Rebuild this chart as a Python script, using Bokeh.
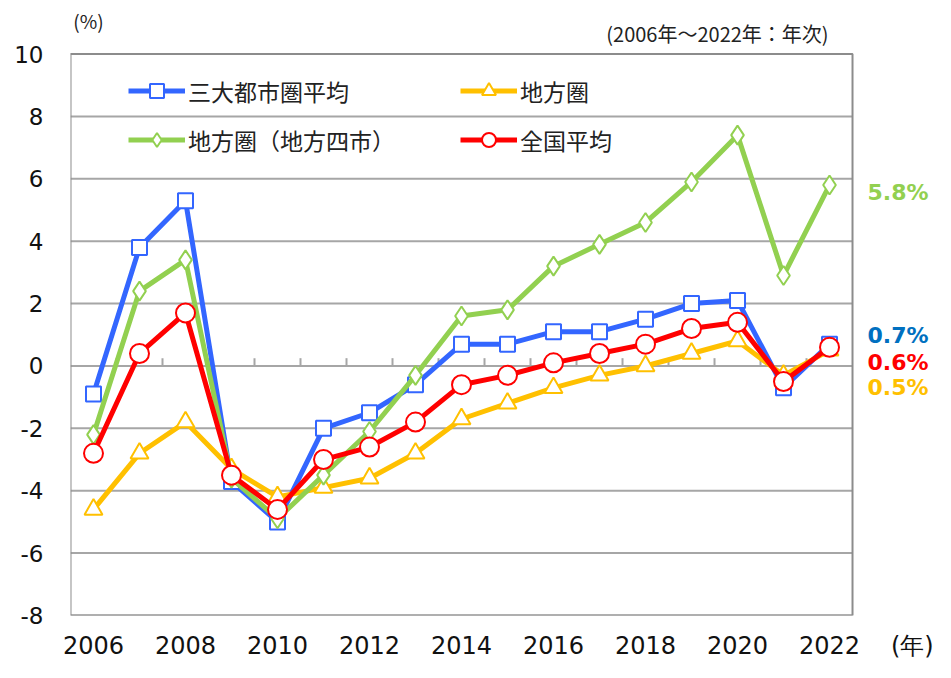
import numpy as np
from bokeh.plotting import figure
from bokeh.models import Range1d, FixedTicker, Legend, CustomJSTickFormatter, ColumnDataSource
from bokeh.core.properties import value
from bokeh.embed import file_html
from bokeh.resources import INLINE

years = list(range(2006, 2023))
metro = [-0.9, 3.8, 5.3, -3.7, -5.0, -2.0, -1.5, -0.6, 0.7, 0.7, 1.1, 1.1, 1.5, 2.0, 2.1, -0.7, 0.7]
local = [-4.6, -2.8, -1.8, -3.3, -4.2, -3.9, -3.6, -2.8, -1.7, -1.2, -0.7, -0.3, 0.0, 0.4, 0.8, -0.3, 0.5]
four_cities = [-2.2, 2.4, 3.4, -3.6, -4.9, -3.5, -2.1, -0.3, 1.6, 1.8, 3.2, 3.9, 4.6, 5.9, 7.4, 2.9, 5.8]
national = [-2.8, 0.4, 1.7, -3.5, -4.6, -3.0, -2.6, -1.8, -0.6, -0.3, 0.1, 0.4, 0.7, 1.2, 1.4, -0.5, 0.6]

names = ["三大都市圏平均", "地方圏", "地方圏（地方四市）", "全国平均"]
x_ticks = list(range(2006, 2023, 2))
y_ticks = list(range(-8, 11, 2))
unit_x_text = "(年)"
unit_y_text = "(%)"
period_text = "(2006年～2022年：年次)"

FONT_NUM = "DejaVu Sans"
FONT_JP = "Noto Sans CJK JP"
GRID = "#a6a6a6"
BOX = "#8c8c8c"

# plot box spans years[0]-0.5 .. years[-1]+0.5 and -8 .. 10; the frame is widened
# (to the right and top) so that the outside texts can be drawn as glyphs
x0_box, x1_box = years[0] - 0.5, years[-1] + 0.5
p = figure(width=935, height=662, output_backend="svg", toolbar_location=None,
           x_range=Range1d(x0_box, 2024.304), y_range=Range1d(y_ticks[0], 11.717),
           min_border_left=70, min_border_right=0, min_border_top=0, min_border_bottom=42)
p.background_fill_color = "white"
p.border_fill_color = "white"
p.outline_line_color = None
p.xgrid.grid_line_color = None
p.ygrid.grid_line_color = None

p.xaxis.ticker = FixedTicker(ticks=x_ticks + [2023.8])
p.xaxis.formatter = CustomJSTickFormatter(
    args=dict(unit=unit_x_text),
    code="return tick > 2023 ? unit : String(Math.round(tick));")
p.yaxis.ticker = FixedTicker(ticks=y_ticks)
p.yaxis.formatter = CustomJSTickFormatter(code="return String(Math.round(tick));")
for ax in (p.xaxis[0], p.yaxis[0]):
    ax.axis_line_color = None
    ax.major_tick_line_color = None
    ax.minor_tick_line_color = None
    ax.major_tick_in = 0
    ax.major_tick_out = 0
    ax.major_label_text_font = FONT_NUM
    ax.major_label_text_color = "#111111"
p.xaxis.major_label_text_font_size = "24px"
p.yaxis.major_label_text_font_size = "23px"
p.xaxis.major_label_standoff = 16
p.yaxis.major_label_standoff = 27

# horizontal gridlines and plot box
n = len(y_ticks)
p.segment(x0=[x0_box] * n, y0=y_ticks, x1=[x1_box] * n, y1=y_ticks, line_color=GRID, line_width=2)
p.quad(left=[x0_box], right=[x1_box], bottom=[y_ticks[0]], top=[y_ticks[-1]],
       fill_color=None, line_color=BOX, line_width=2)

# small ticks on the zero line at category boundaries
bx = [y - 0.5 for y in years[1:]]
p.segment(x0=bx, y0=[0] * len(bx), x1=bx, y1=[0.25] * len(bx), line_color=GRID, line_width=2)

series = [
    (metro, "#3366ff", "square", 15),
    (local, "#ffc000", "triangle", 18),
    (four_cities, "#92d050", "diamond", 19),
    (national, "#ff0000", "circle", 19),
]
items = []
for (vals, color, marker, size), name in zip(series, names):
    r1 = p.line(years, vals, line_color=color, line_width=5, line_join="round")
    r2 = p.scatter(years, vals, marker=marker, size=size, fill_color="white",
                   line_color=color, line_width=2)
    items.append((name, [r1, r2]))

legend = Legend(items=items, location=(58, 458), orientation="horizontal", ncols=2)
legend.background_fill_alpha = 0
legend.border_line_color = None
legend.padding = 0
legend.margin = 0
legend.spacing = 14
legend.glyph_width = 57
legend.glyph_height = 35
legend.label_standoff = 3
legend.label_width = 258
legend.label_text_font = FONT_JP
legend.label_text_font_size = "23px"
legend.label_text_color = "#222222"
p.add_layout(legend, "center")

# end-of-line value labels
end_colors = ["#0070c0", "#ffc000", "#92d050", "#ff0000"]
end_label_y = [0.97, -0.69, 5.55, 0.11]
end_src = ColumnDataSource(dict(
    x=[years[-1]] * 4, y=end_label_y,
    text=[f"{v[-1]:.1f}%" for v in (metro, local, four_cities, national)],
    color=end_colors))
p.text(x="x", y="y", text="text", text_color="color", source=end_src, x_offset=38,
       text_font=value(FONT_NUM), text_font_style="bold", text_font_size=value("22px"),
       text_baseline="middle", text_align="left")

p.text(x=[2005.89], y=[11.08], text=[unit_y_text], text_font=value(FONT_JP),
       text_font_size=value("19px"), text_align="center", text_baseline="middle",
       text_color="#222222")
p.text(x=[2021.98], y=[10.67], text=[period_text], text_font=value(FONT_JP),
       text_font_size=value("20px"), text_align="right", text_baseline="middle",
       text_color="#222222")

open("out.html", "w").write(file_html(p, INLINE))
